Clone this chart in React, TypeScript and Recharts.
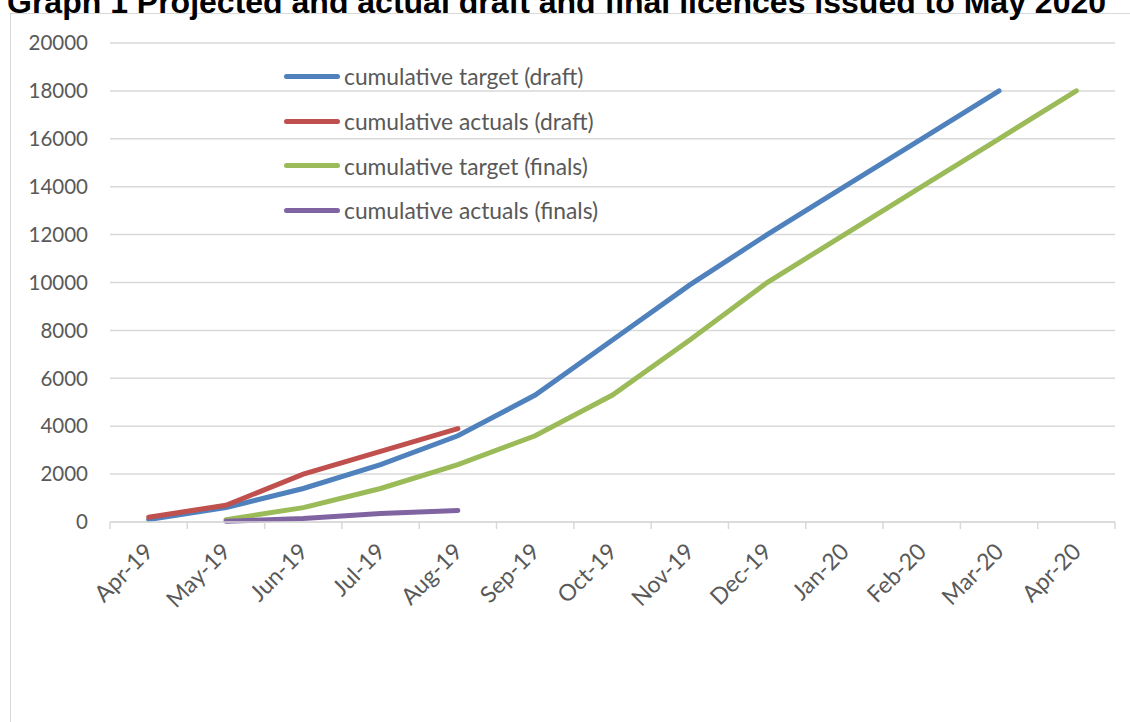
import React from "react";
import { LineChart, Line, XAxis, YAxis, CartesianGrid } from "recharts";

const months = [
  "Apr-19", "May-19", "Jun-19", "Jul-19", "Aug-19", "Sep-19", "Oct-19",
  "Nov-19", "Dec-19", "Jan-20", "Feb-20", "Mar-20", "Apr-20",
];
const targetDraft = [100, 600, 1400, 2400, 3600, 5300, 7600, 9900, 12000, 14000, 16000, 18000, null];
const actualsDraft = [200, 700, 2000, 2950, 3900, null, null, null, null, null, null, null, null];
const targetFinals = [null, 100, 600, 1400, 2400, 3600, 5300, 7600, 10000, 12000, 14000, 16000, 18000];
const actualsFinals = [null, 30, 150, 350, 480, null, null, null, null, null, null, null, null];
const yTicks = [0, 2000, 4000, 6000, 8000, 10000, 12000, 14000, 16000, 18000, 20000];

const series = [
  { key: "targetDraft", name: "cumulative target (draft)", color: "#4f81bd" },
  { key: "actualsDraft", name: "cumulative actuals (draft)", color: "#c0504d" },
  { key: "targetFinals", name: "cumulative target (finals)", color: "#9bbb59" },
  { key: "actualsFinals", name: "cumulative actuals (finals)", color: "#8064a2" },
];

const data = months.map((m, i) => ({
  month: m,
  targetDraft: targetDraft[i],
  actualsDraft: actualsDraft[i],
  targetFinals: targetFinals[i],
  actualsFinals: actualsFinals[i],
}));

const font = "Lato, 'Open Sans', sans-serif";
const gray = "#595959";
const gridColor = "#d9d9d9";
const halfBand = 38.65;

// month label plus the small tick marks at the month boundaries
const MonthTick = (props: any) => {
  const { x, y, payload, index, visibleTicksCount } = props;
  const last = index === visibleTicksCount - 1;
  return (
    <g>
      <line x1={x - halfBand} x2={x - halfBand} y1={y} y2={y + 7} stroke={gridColor} strokeWidth={1.5} />
      {last && <line x1={x + halfBand} x2={x + halfBand} y1={y} y2={y + 7} stroke={gridColor} strokeWidth={1.5} />}
      <g transform={`translate(${x + 6},${y + 31})`}>
        <text textAnchor="end" transform="rotate(-45)" fill={gray} fontSize={23} fontFamily={font}>
          {payload.value}
        </text>
      </g>
    </g>
  );
};

export default function App() {
  return (
    <div style={{ position: "absolute", left: 0, top: 0, width: 1130, height: 722, overflow: "hidden", background: "#fff" }}>
      <div
        style={{
          position: "absolute", left: 10, top: 13, width: 1200, height: 800,
          border: `1.5px solid ${gridColor}`,
        }}
      />
      <div
        style={{
          position: "absolute", left: 7, top: -16, whiteSpace: "nowrap", lineHeight: "normal",
          fontFamily: "'Liberation Sans', Arial, sans-serif", fontWeight: "bold", fontSize: 32, color: "#000",
        }}
      >
        Graph 1 Projected and actual draft and final licences issued to May 2020
      </div>
      <div style={{ position: "absolute", left: 0, top: 0 }}>
        <LineChart width={1130} height={722} data={data} margin={{ top: 43, right: 15, bottom: 100, left: 0 }}>
          <CartesianGrid vertical={false} stroke={gridColor} strokeWidth={1.5} />
          <XAxis
            dataKey="month"
            interval={0}
            padding={{ left: halfBand, right: halfBand }}
            axisLine={{ stroke: gridColor, strokeWidth: 1.5 }}
            tickLine={false}
            tickSize={0}
            tickMargin={0}
            tick={<MonthTick />}
            height={100}
          />
          <YAxis
            domain={[0, 20000]}
            ticks={yTicks}
            width={110}
            axisLine={false}
            tickLine={false}
            tickSize={0}
            tickMargin={22}
            tick={{ fill: gray, fontSize: 20.5, fontFamily: font }}
          />
          {series.map((s) => (
            <Line
              key={s.key}
              name={s.name}
              dataKey={s.key}
              stroke={s.color}
              strokeWidth={5}
              strokeLinecap="round"
              dot={false}
              isAnimationActive={false}
            />
          ))}
        </LineChart>
      </div>
      <div style={{ position: "absolute", left: 284, top: 54 }}>
        {series.map((s) => (
          <div key={s.key} style={{ display: "flex", alignItems: "center", height: 44.7 }}>
            <div style={{ width: 56, height: 5, borderRadius: 3, background: s.color, marginRight: 4 }} />
            <span style={{ fontFamily: font, fontSize: 22.8, color: gray, whiteSpace: "nowrap" }}>{s.name}</span>
          </div>
        ))}
      </div>
    </div>
  );
}
